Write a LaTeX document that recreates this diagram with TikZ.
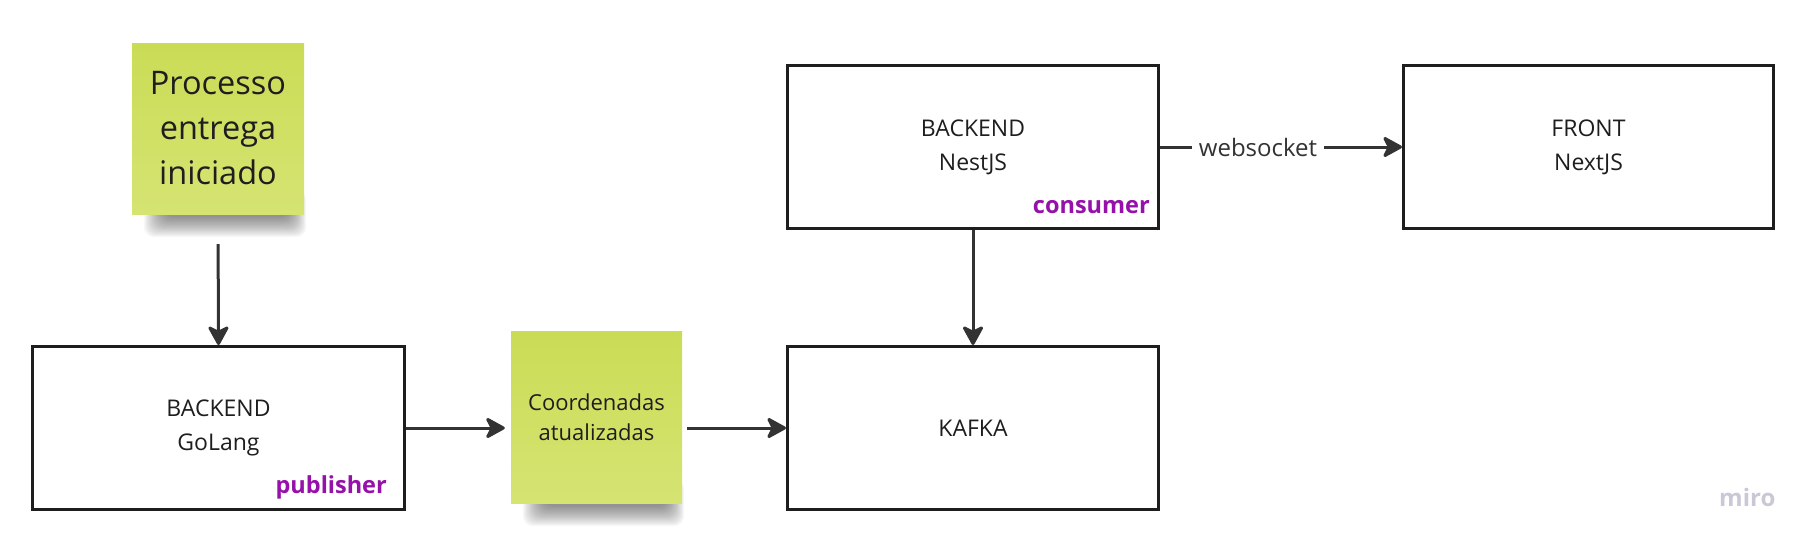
\documentclass[tikz,border=0pt]{standalone}
\usepackage{fontspec}
\setmainfont{Open Sans}
\usetikzlibrary{arrows.meta,calc}
\pgfdeclarelayer{bg}
\pgfsetlayers{bg,main}
\definecolor{stickytop}{RGB}{202,220,86}
\definecolor{stickybot}{RGB}{213,228,114}
\definecolor{ink}{RGB}{30,30,30}
\definecolor{linec}{RGB}{51,51,51}
\definecolor{roleviolet}{RGB}{150,17,170}
\definecolor{mirogray}{RGB}{200,200,214}
\newcommand{\stickyshadow}[1]{%
  \foreach \i in {0,...,19} {
    \fill[black, opacity=0.028, rounded corners=10pt]
      ($(#1.south west)+(12+1.1*\i,-24)$) rectangle ($(#1.south east)+(2-0.9*\i,23-1.05*\i)$);
  }%
}
\begin{document}
\begin{tikzpicture}[x=1pt,y=-1pt,
  sysbox/.style={draw=ink, line width=3pt, fill=white, minimum width=371pt, minimum height=163pt, inner sep=0pt,
    text=ink, align=center, font=\fontsize{23}{34}\selectfont},
  sticky/.style={top color=stickytop, bottom color=stickybot, draw=none, inner sep=0pt,
    minimum width=172pt, minimum height=171pt, text=ink, align=center},
  role/.style={text=roleviolet, font=\fontsize{23.5}{28}\selectfont\bfseries, inner sep=0pt, anchor=base east},
  flow/.style={draw=linec, line width=3pt, -{Stealth[length=22pt, width=24pt, inset=6pt, round]}},
]
\useasboundingbox (0,0) rectangle (1818,549);

% sticky notes
\node[sticky, font=\fontsize{32.5}{45}\selectfont] (start) at (218,128.5) {Processo\\entrega\\iniciado};
\node[sticky, minimum width=171pt, minimum height=172pt, font=\fontsize{22}{30}\selectfont] (coords) at (596.5,417) {Coordenadas\\atualizadas};
\begin{pgfonlayer}{bg}
\stickyshadow{start}
\stickyshadow{coords}
\end{pgfonlayer}

% system boxes
\node[sysbox, minimum width=372pt] (golang) at (218.5,428) {BACKEND\\GoLang};
\node[sysbox] (nest) at (973,147) {BACKEND\\NestJS};
\node[sysbox] (kafka) at (973,428) {KAFKA};
\node[sysbox, minimum width=370pt] (front) at (1588.5,147) {FRONT\\NextJS};

% role labels
\node[role] (pub) at (387,493) {publisher};
\node[role] (cons) at (1150,213) {consumer};

% connectors
\draw[flow, shorten <=30pt] (start.south) -- (golang.north);
\draw[flow, shorten >=6pt] (golang.east) -- (coords.west |- golang.east);
\draw[flow, shorten <=5pt] (coords.east |- kafka.west) -- (kafka.west);
\draw[flow] (nest.south) -- (kafka.north);
\draw[flow] (nest.east) -- node[pos=0.405, fill=white, text=linec, inner xsep=7pt, inner ysep=2pt, font=\fontsize{24}{28}\selectfont] (ws) {websocket} (front.west);

% watermark
\node[text=mirogray, font=\fontsize{24}{28}\selectfont\bfseries, anchor=base west, inner sep=0pt] (miro) at (1719,506) {miro};
\end{tikzpicture}
\end{document}
